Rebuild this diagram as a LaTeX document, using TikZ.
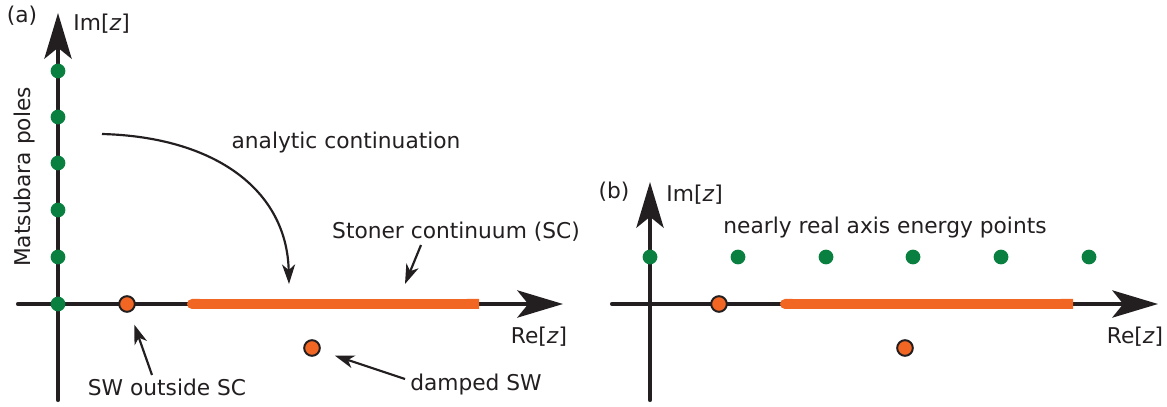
\documentclass[tikz,border=0pt]{standalone}
\usepackage{fontspec}
\setmainfont{DejaVu Sans}
\usetikzlibrary{arrows.meta}
\definecolor{polegreen}{RGB}{10,128,64}
\definecolor{swred}{RGB}{241,102,35}
\definecolor{inkblack}{RGB}{35,31,32}
\tikzset{>={Stealth[length=9pt,width=6pt,inset=2.6pt]}}
\tikzset{%
    axis/.style={inkblack,line width=1.9pt,line cap=round,
        -{Stealth[length=21pt,width=12.5pt,inset=5pt]}},
    pole/.style={circle,fill=polegreen,inner sep=0pt,minimum size=6.8pt},
    sw/.style={circle,fill=swred,draw=inkblack,line width=0.9pt,inner sep=0pt,minimum size=7.2pt},
    sc/.style={swred,line width=4.6pt,{Round Cap[]}-{Butt Cap[]}},
    hint/.style={inkblack,line width=1pt,->},
    lbl/.style={text=inkblack,inner sep=0pt}
}
\begin{document}
\begin{tikzpicture}[x=0.46pt,y=-0.46pt]
    \useasboundingbox (0,0) rectangle (1167,407);
    % panel (a)
    \coordinate (ax0) at (18,304);  \coordinate (ax1) at (563,304);
    \coordinate (ay0) at (58,400);  \coordinate (ay1) at (58,13);
    \draw[axis] (ax0)--(ax1);
    \draw[axis] (ay0)--(ay1);
    \coordinate (sca0) at (187,304); \coordinate (sca1) at (479,304);
    \draw[sc] (sca0)--(sca1);
    \foreach \y [count=\i] in {71,117,163,210,257,304}
        \node[pole] (m\i) at (58,\y) {};
    \node[sw] (swa) at (127,304) {};
    \node[sw] (dampa) at (312,348) {};
    \node[lbl] (taga) at (22,16) {(a)};
    \node[lbl,anchor=west] (ima) at (73,24) {Im[\textit{z}]};
    \node[lbl,rotate=90] (mats) at (25,177) {Matsubara poles};
    \node[lbl] (cont) at (346,143) {analytic continuation};
    \node[lbl] (stoner) at (456,232) {Stoner continuum (SC)};
    \node[lbl] (swout) at (167,387) {SW outside SC};
    \node[lbl] (damped) at (476,385) {damped SW};
    \node[lbl] (rea) at (539,337) {Re[\textit{z}]};
    \coordinate (c0) at (102,134); \coordinate (c1) at (289,284);
    \draw[hint] (c0) .. controls (215,137) and (287,190) .. (c1);
    \coordinate (s0) at (421,245); \coordinate (s1) at (405,284);
    \draw[hint] (s0)--(s1);
    \coordinate (w0) at (152,375);
    \draw[hint,shorten >=6pt] (w0)--(swa);
    \coordinate (d0) at (405,379);
    \draw[hint,shorten >=7pt] (d0)--(dampa);
    % panel (b)
    \coordinate (bx0) at (612,304); \coordinate (bx1) at (1158,304);
    \coordinate (by0) at (650,400); \coordinate (by1) at (650,182);
    \draw[axis] (bx0)--(bx1);
    \draw[axis] (by0)--(by1);
    \coordinate (scb0) at (780,304); \coordinate (scb1) at (1073,304);
    \draw[sc] (scb0)--(scb1);
    \foreach \x [count=\i] in {650,738,826,913,1001,1089}
        \node[pole] (e\i) at (\x,257) {};
    \node[sw] (swb) at (719,304) {};
    \node[sw] (dampb) at (905,348) {};
    \node[lbl] (tagb) at (614,192) {(b)};
    \node[lbl,anchor=west] (imb) at (666,195) {Im[\textit{z}]};
    \node[lbl] (nearly) at (885,228) {nearly real axis energy points};
    \node[lbl] (reb) at (1135,337) {Re[\textit{z}]};
\end{tikzpicture}
\end{document}
